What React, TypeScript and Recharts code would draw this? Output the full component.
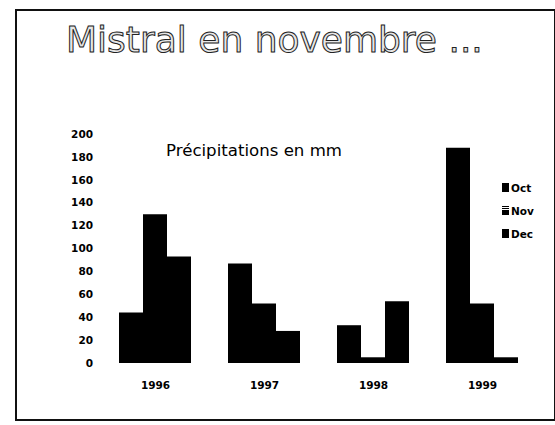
import { Bar, BarChart, XAxis, YAxis } from "recharts";

const YEARS = ["1996", "1997", "1998", "1999"];
const OCT = [44, 87, 33, 188];
const NOV = [130, 52, 5, 52];
const DEC = [93, 28, 54, 5];
const Y_TICKS = [0, 20, 40, 60, 80, 100, 120, 140, 160, 180, 200];

const MONTHS = ["Oct", "Nov", "Dec"];

const INK = "#000";
const TICK_FONT = { fontSize: 10.5, fontWeight: 700, fill: INK, fontFamily: "DejaVu Sans" };

const data = YEARS.map((year, i) => ({
  year,
  Oct: OCT[i],
  Nov: NOV[i],
  Dec: DEC[i],
}));

function LegendIcon({ month }: { month: string }) {
  if (month === "Nov") {
    // the scanned Nov swatch shows stripes over black
    return (
      <svg width={7} height={9} style={{ marginRight: 2 }}>
        <rect x={0} y={0} width={7} height={1} fill={INK} />
        <rect x={0} y={2} width={7} height={1} fill={INK} />
        <rect x={0} y={4} width={7} height={1} fill={INK} />
        <rect x={0} y={5} width={7} height={4} fill={INK} />
      </svg>
    );
  }
  return (
    <svg width={7} height={9} style={{ marginRight: 2 }}>
      <rect x={0} y={0} width={7} height={9} fill={INK} />
    </svg>
  );
}

// Recharts' <Legend> eats plot height, so the legend is plain markup on top
function MonthLegend() {
  return (
    <div
      style={{
        position: "absolute",
        left: 502,
        top: 176,
        fontFamily: "DejaVu Sans",
        fontSize: 10.5,
        fontWeight: 700,
        color: INK,
      }}
    >
      {MONTHS.map((m) => (
        <div key={m} style={{ display: "flex", alignItems: "center", height: 23 }}>
          <LegendIcon month={m} />
          <span>{m}</span>
        </div>
      ))}
    </div>
  );
}

export default function App() {
  return (
    <div
      style={{
        position: "absolute",
        left: 0,
        top: 0,
        width: 555,
        height: 425,
        background: "#fff",
        overflow: "hidden",
      }}
    >
      {/* slide frame */}
      <div
        style={{
          position: "absolute",
          left: 15,
          top: 9,
          width: 537,
          height: 408,
          border: "2px solid #111",
        }}
      />
      <div
        style={{
          position: "absolute",
          left: 66,
          top: 19,
          fontFamily: "DejaVu Sans",
          fontSize: 36,
          color: "#e6e6e6",
          WebkitTextStroke: "1px #222",
          whiteSpace: "nowrap",
        }}
      >
        Mistral en novembre ...
      </div>
      <div
        style={{
          position: "absolute",
          left: 166,
          top: 141,
          fontFamily: "DejaVu Sans",
          fontSize: 16.6,
          color: INK,
          whiteSpace: "nowrap",
        }}
      >
        Précipitations en mm
      </div>
      <div style={{ position: "absolute", left: 0, top: 0 }}>
        <BarChart
          width={555}
          height={425}
          data={data}
          margin={{ top: 134, right: 18, bottom: 32, left: 61 }}
          barCategoryGap={18}
          barGap={0}
        >
          <XAxis
            dataKey="year"
            axisLine={false}
            tickLine={false}
            tickMargin={13}
            tick={TICK_FONT}
          />
          <YAxis
            type="number"
            domain={[0, 200]}
            ticks={Y_TICKS}
            interval={0}
            axisLine={false}
            tickLine={false}
            width={40}
            tick={TICK_FONT}
          />
          <Bar dataKey="Oct" fill={INK} isAnimationActive={false} />
          <Bar dataKey="Nov" fill={INK} isAnimationActive={false} />
          <Bar dataKey="Dec" fill={INK} isAnimationActive={false} />
        </BarChart>
      </div>
      <MonthLegend />
    </div>
  );
}
